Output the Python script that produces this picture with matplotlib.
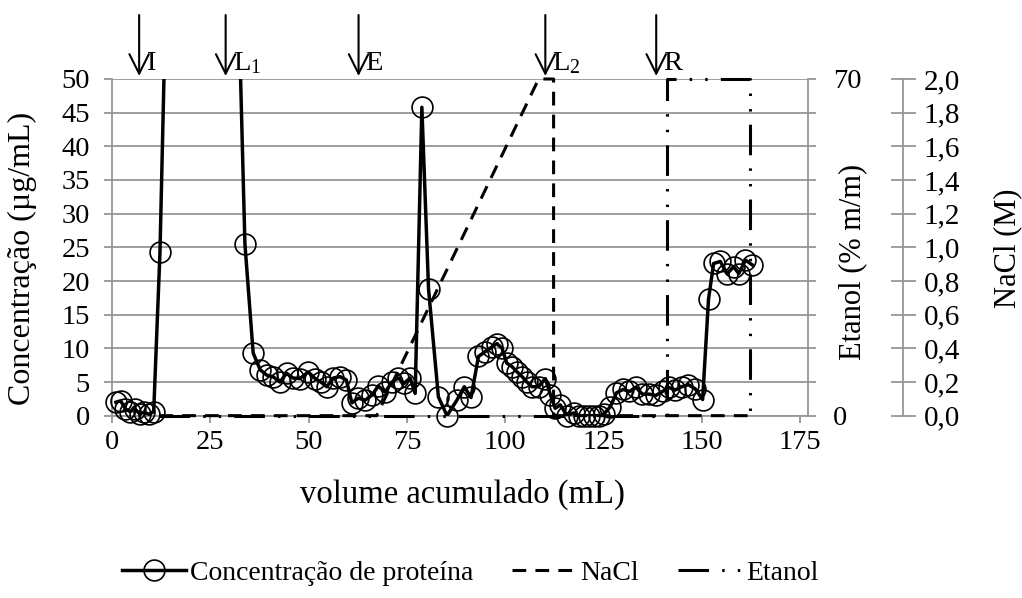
import numpy as np
import matplotlib
matplotlib.use('Agg')
import matplotlib.pyplot as plt
from matplotlib.lines import Line2D
from matplotlib.ticker import FuncFormatter

plt.rcParams['font.family'] = ['Liberation Serif', 'DejaVu Serif']
plt.rcParams['mathtext.fontset'] = 'stix'

# concentração de proteína (µg/mL) x volume acumulado (mL)
vol = [1.0, 2.2, 3.4, 4.6, 5.8, 7.0, 8.2, 9.4, 10.6, 12.2,
       13.6, 15.0, 16.5, 17.9, 19.4, 20.8, 22.2, 23.7, 25.1, 26.6, 28.0, 29.5, 30.9, 32.4,
       33.8, 35.9, 37.7, 39.4, 40.9, 42.7, 44.4, 46.0, 47.8, 49.9, 51.7, 53.1, 54.6,
       56.3, 58.0, 59.6, 61.0, 62.6, 64.4, 66.2, 67.7, 69.5, 71.2, 72.8, 74.3, 75.8,
       77.1, 78.8, 80.5, 83.0, 85.2, 87.7, 89.6, 91.3, 93.2, 94.9, 96.6, 97.9,
       99.2, 100.4, 101.7, 103.0, 104.3, 105.5, 106.8, 108.5, 110.2, 111.5,
       112.7, 114.0, 115.7, 117.4, 118.7, 120.0, 121.3, 122.6, 123.9, 125.2,
       126.7, 128.3, 130.0, 131.6, 133.2, 134.9, 136.6, 138.3, 140.0, 141.6,
       143.2, 144.9, 146.6, 148.3, 150.2, 151.7, 153.0, 154.7, 156.4, 158.1,
       159.4, 161.1, 162.8]
prot = [2.0, 2.2, 1.0, 0.6, 1.0, 0.3, 0.5, 0.2, 0.6, 24.3,
        60, 110, 160, 190, 200, 185, 160, 135, 115, 100, 90, 80, 70, 56.7,
        25.5, 9.3, 6.8, 6.0, 5.8, 5.0, 6.3, 5.6, 5.5, 6.5, 5.5, 5.0, 4.3,
        5.6, 5.8, 5.3, 1.9, 2.6, 2.3, 3.1, 4.4, 3.5, 5.0, 5.6, 4.8, 5.6,
        3.3, 45.8, 18.8, 2.8, 0.0, 2.3, 4.3, 2.7, 8.8, 9.5, 10.2, 10.7,
        10.0, 7.8, 7.3, 6.5, 5.8, 5.0, 4.3, 4.3, 5.5, 3.1,
        1.1, 1.6, 0.0, 0.4, 0.0, 0.0, 0.0, 0.0, 0.0, 0.3,
        1.3, 3.4, 3.9, 3.6, 4.2, 3.2, 3.2, 3.0, 3.6, 4.2,
        3.8, 4.3, 4.6, 4.0, 2.4, 17.3, 22.6, 22.9, 21.1, 22.1,
        21.1, 23.1, 22.4]

# NaCl (M)
vol_nacl = [12.0, 67.3, 108.5, 112.3, 112.3, 161.8]
nacl = [0.0, 0.0, 2.0, 2.0, 0.0, 0.0]

# Etanol (% m/m)
vol_etanol = [12.0, 141.1, 141.1, 162.2, 162.2]
etanol = [0, 0, 70, 70, 0]

# etapas (setas no topo)
etapas = ['I', 'L$_\\mathregular{1}$', 'E', 'L$_\\mathregular{2}$', 'R']
etapas_vol = [6.9, 28.9, 62.7, 110.2, 138.4]

cinza = '#969696'
fs = 20.5     # números dos eixos
fs_lab = 22   # títulos dos eixos

fig = plt.figure(figsize=(10.22, 5.98), dpi=100)
ax = fig.add_axes([0.1096, 0.3049, 0.681, 0.5630])
ax2 = ax.twinx()
ax3 = ax.twinx()

vol = np.array(vol)
prot = np.array(prot)

# proteína
ax.plot(vol, prot, color='k', lw=2.5, zorder=3)
dentro = prot <= 50
ax.plot(vol[dentro], prot[dentro], 'o', ms=15, mfc='none', mec='k', mew=1.2,
        clip_on=False, zorder=4)

# etanol e NaCl
estilo_etanol = (0, (10, 4.3, 0.8, 4.3, 0.8, 4.3))
estilo_nacl = (0, (4.5, 3))
ax2.plot(vol_etanol, etanol, color='k', lw=2.2, ls=estilo_etanol, clip_on=False)
ax3.plot(vol_nacl, nacl, color='k', lw=2.2, ls=estilo_nacl, clip_on=False)

ax.set_xlim(0, 177)
ax.set_ylim(0, 50)
ax2.set_ylim(0, 70)
ax3.set_ylim(0, 2)

ax.set_xticks(np.arange(0, 176, 25))
ax.set_yticks(np.arange(0, 51, 5))
ax.grid(axis='y', color=cinza, lw=1.3)
ax.set_axisbelow(True)
ax.tick_params(axis='both', colors=cinza, labelcolor='k', labelsize=fs, width=1.3)
ax.tick_params(axis='y', length=6, pad=10)
ax.tick_params(axis='x', length=5, pad=5)

ax2.set_yticks(np.arange(0, 71, 7))
ax2.yaxis.set_major_formatter(FuncFormatter(lambda v, p: f'{v:.0f}' if v in (0, 70) else ''))
ax2.tick_params(axis='y', colors=cinza, labelcolor='k', labelsize=fs, length=6, width=1.3, pad=12)

ax3.set_yticks(np.arange(0, 2.01, 0.2))
ax3.yaxis.set_major_formatter(FuncFormatter(lambda v, p: f'{v:.1f}'.replace('.', ',')))
ax3.spines['right'].set_position(('axes', 1.1365))
ax3.tick_params(axis='y', direction='inout', colors=cinza, labelcolor='k',
                labelsize=21, length=18, width=1.3, pad=6)

for a in (ax, ax2, ax3):
    for s in a.spines.values():
        s.set_color(cinza)
        s.set_linewidth(1.3)
    a.spines['top'].set_visible(False)
for a in (ax2, ax3):
    a.spines['left'].set_visible(False)
    a.spines['bottom'].set_visible(False)
ax.spines['right'].set_visible(False)

# setas
for nome, v in zip(etapas, etapas_vol):
    ax.annotate('', xy=(v, 1.009), xytext=(v, 1.19),
                xycoords=('data', 'axes fraction'), textcoords=('data', 'axes fraction'),
                arrowprops=dict(arrowstyle='->,head_length=0.7,head_width=0.35',
                                mutation_scale=20, lw=1.5, color='k',
                                shrinkA=0, shrinkB=0))
    ax.text(v + 1.8, 1.027, nome, transform=ax.get_xaxis_transform(),
            fontsize=fs, va='baseline', ha='left')

# rótulos
fig.text(22 / 1022, 1 - 258 / 598, 'Concentração (µg/mL)', rotation=90,
         fontsize=23, ha='center', va='center')
fig.text(462 / 1022, 1 - 494 / 598, 'volume acumulado (mL)', fontsize=23.5,
         ha='center', va='center')
fig.text(853 / 1022, 1 - 262 / 598, 'Etanol (% m/m)', rotation=90, fontsize=fs_lab,
         ha='center', va='center')
fig.text(1008 / 1022, 1 - 248 / 598, 'NaCl (M)', rotation=90, fontsize=fs_lab,
         ha='center', va='center')

# legenda
h1 = Line2D([], [], color='k', lw=2.5, marker='o', ms=15, mfc='none', mec='k', mew=1.2)
h2 = Line2D([], [], color='k', lw=2.2, ls=estilo_nacl)
h3 = Line2D([], [], color='k', lw=2.2, ls=estilo_etanol)
fig.legend([h1, h2, h3], ['Concentração de proteína', 'NaCl', 'Etanol'],
           loc='center', bbox_to_anchor=(470 / 1022, 1 - 573 / 598), ncol=3,
           frameon=False, fontsize=20, handlelength=2.3, handletextpad=0.15,
           columnspacing=1.4, numpoints=1)

fig.savefig('out.png', dpi=100)
